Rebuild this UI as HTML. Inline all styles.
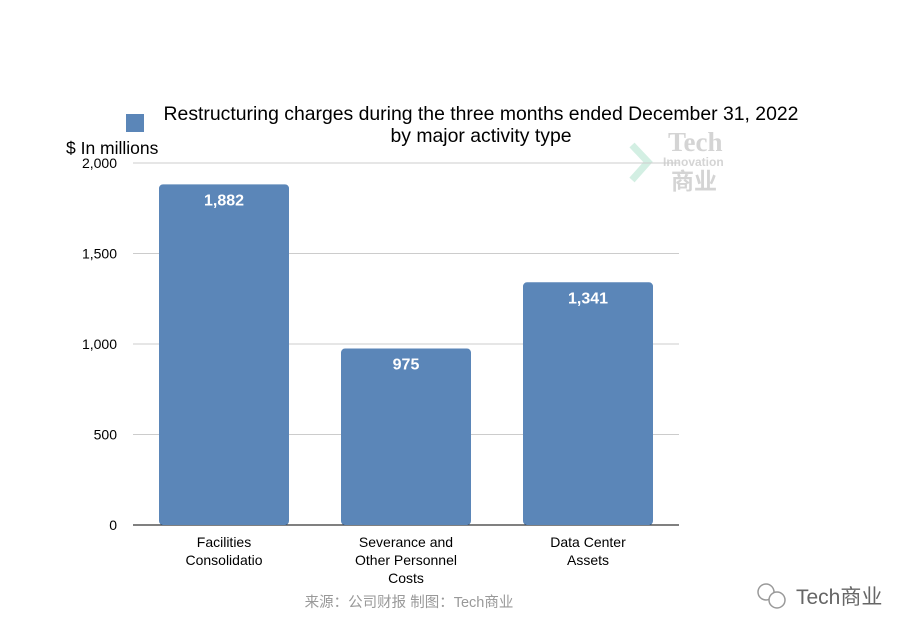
<!DOCTYPE html>
<html><head><meta charset="utf-8"><style>
body{margin:0;background:#fff;}
svg{display:block;font-family:"Liberation Sans","Noto Sans CJK SC",sans-serif;}
</style></head><body>
<svg id="c" width="918" height="636" xmlns="http://www.w3.org/2000/svg">
<rect x="126" y="114" width="18" height="18" fill="#5b86b8"/>
<text x="481" y="120" font-size="19.4" text-anchor="middle" fill="#000">Restructuring charges during the three months ended December 31, 2022</text>
<text x="481" y="142" font-size="19.4" text-anchor="middle" fill="#000">by major activity type</text>
<text x="66" y="154" font-size="17.5" fill="#000">$ In millions</text>
<g opacity="0.5">
<path d="M632 145 L648 162 L632 180" fill="none" stroke="#a8e0c8" stroke-width="7"/>
<text x="668" y="151" font-size="27" font-weight="bold" font-family="Liberation Serif,serif" fill="#aaa">Tech</text>
<text x="663" y="166" font-size="12" font-weight="bold" fill="#aaa">Innovation</text>
<text x="671" y="189" font-size="23" font-weight="bold" fill="#aaa">商业</text>
</g>
<g id="grid"></g><g id="bars"></g>
<text x="409" y="607" font-size="14.5" text-anchor="middle" fill="#999">来源：公司财报 制图：Tech商业</text>
<g>
<circle cx="766" cy="592" r="8" fill="none" stroke="#999" stroke-width="1.5"/>
<circle cx="777" cy="600" r="8" fill="#fff" stroke="#999" stroke-width="1.5"/>
<text x="796" y="604" font-size="21" fill="#666">Tech商业</text>
</g>
</svg>
<script>
const categories=[["Facilities","Consolidatio"],["Severance and","Other Personnel","Costs"],["Data Center","Assets"]];
const values=[1882,975,1341];
const labels=["1,882","975","1,341"];
const ticks=[0,500,1000,1500,2000];
const tickLabels=["0","500","1,000","1,500","2,000"];
const NS="http://www.w3.org/2000/svg";
const x0=133,x1=679,y0=525,y1=163,maxV=2000;
const yS=v=>y0-(y0-y1)*v/maxV;
const band=(x1-x0)/categories.length;
const xC=i=>x0+band*(i+0.5);
function mk(t,a,p){const e=document.createElementNS(NS,t);for(const k in a)e.setAttribute(k,a[k]);p.appendChild(e);return e;}
const g=document.getElementById('grid'),b=document.getElementById('bars');
ticks.forEach((t,i)=>{
 const l=mk('line',{x1:x0,x2:x1,y1:yS(t),y2:yS(t),stroke:t===0?'#000':'#ccc','stroke-width':1},g);
 
 
 const tx=mk('text',{x:117,y:yS(t)+5,'font-size':14,'text-anchor':'end',fill:'#000'},g);
 tx.textContent=tickLabels[i];
 
 
});
values.forEach((v,i)=>{
 const w=130,cx=xC(i);
 const r=mk('rect',{x:cx-w/2,y:yS(v),width:w,height:y0-yS(v),rx:4,fill:'#5b86b8'},b);
 
 
 const t=mk('text',{x:cx,y:yS(v)+21,'font-size':16,'font-weight':'bold','text-anchor':'middle',fill:'#fff'},b);
 t.textContent=labels[i];
 
 
 categories[i].forEach((s,j)=>{
  const c=mk('text',{x:cx,y:547+j*18,'font-size':14,'text-anchor':'middle',fill:'#000'},b);
  c.textContent=s;
  
  
 });
});
</script>
</body></html>
